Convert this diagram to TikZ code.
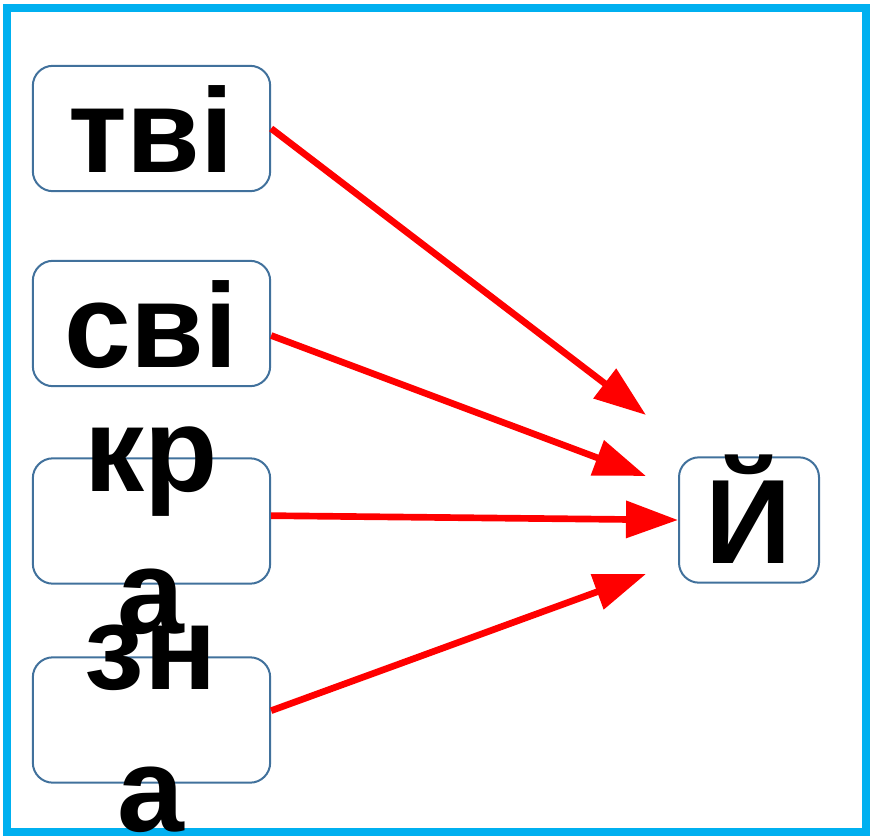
\documentclass[tikz,border=0pt]{standalone}
\usepackage{fontspec}
\setmainfont{Liberation Sans}
\usetikzlibrary{arrows.meta}

\definecolor{frameblue}{RGB}{0,176,240}
\definecolor{boxblue}{RGB}{65,113,156}

\tikzset{
  box/.style={draw=boxblue, line width=1.5pt, rounded corners=15pt,
    minimum width=178pt, minimum height=94pt, inner sep=0pt},
  syll/.style={font=\fontsize{90}{106}\selectfont\bfseries, align=center,
    inner sep=0pt, anchor=base},
  link/.style={draw=red, line width=5pt,
    -{Triangle[length=39pt,width=27pt]}}
}

\begin{document}
\begin{tikzpicture}[x=0.75pt,y=-0.75pt]
    \useasboundingbox (0,0) rectangle (871,836);
    \draw[frameblue, line width=6pt] (7,8) rectangle (866,832);

    % left column
    \node[box] (b1) at (151.5,128.5) {};
    \node[box] (b2) at (151.5,323.5) {};
    \node[box] (b3) at (151.5,521) {};
    \node[box] (b4) at (151.5,720) {};
    \node[box, minimum width=105pt] (bj) at (749,520) {};

    % words (base = last line)
    \node[syll] (w1) at (151,172) {тві};
    \node[syll] (w2) at (151,367) {сві};
    \node[syll] (w3) at (151,633) {кр\\а};
    \node[syll] (w4) at (151,831) {зн\\а};
    \node[syll] (wj) at (749,563) {Й};

    % free ends
    \coordinate (t1) at (646,415);
    \coordinate (t2) at (646,476);
    \coordinate (t4) at (646,574);

    \draw[link] (b1.east) -- (t1);
    \draw[link] ([yshift=-9pt]b2.east) -- (t2);
    \draw[link] ([yshift=4pt]b3.east) -- (bj.west);
    \draw[link] ([yshift=7pt]b4.east) -- (t4);
\end{tikzpicture}
\end{document}
